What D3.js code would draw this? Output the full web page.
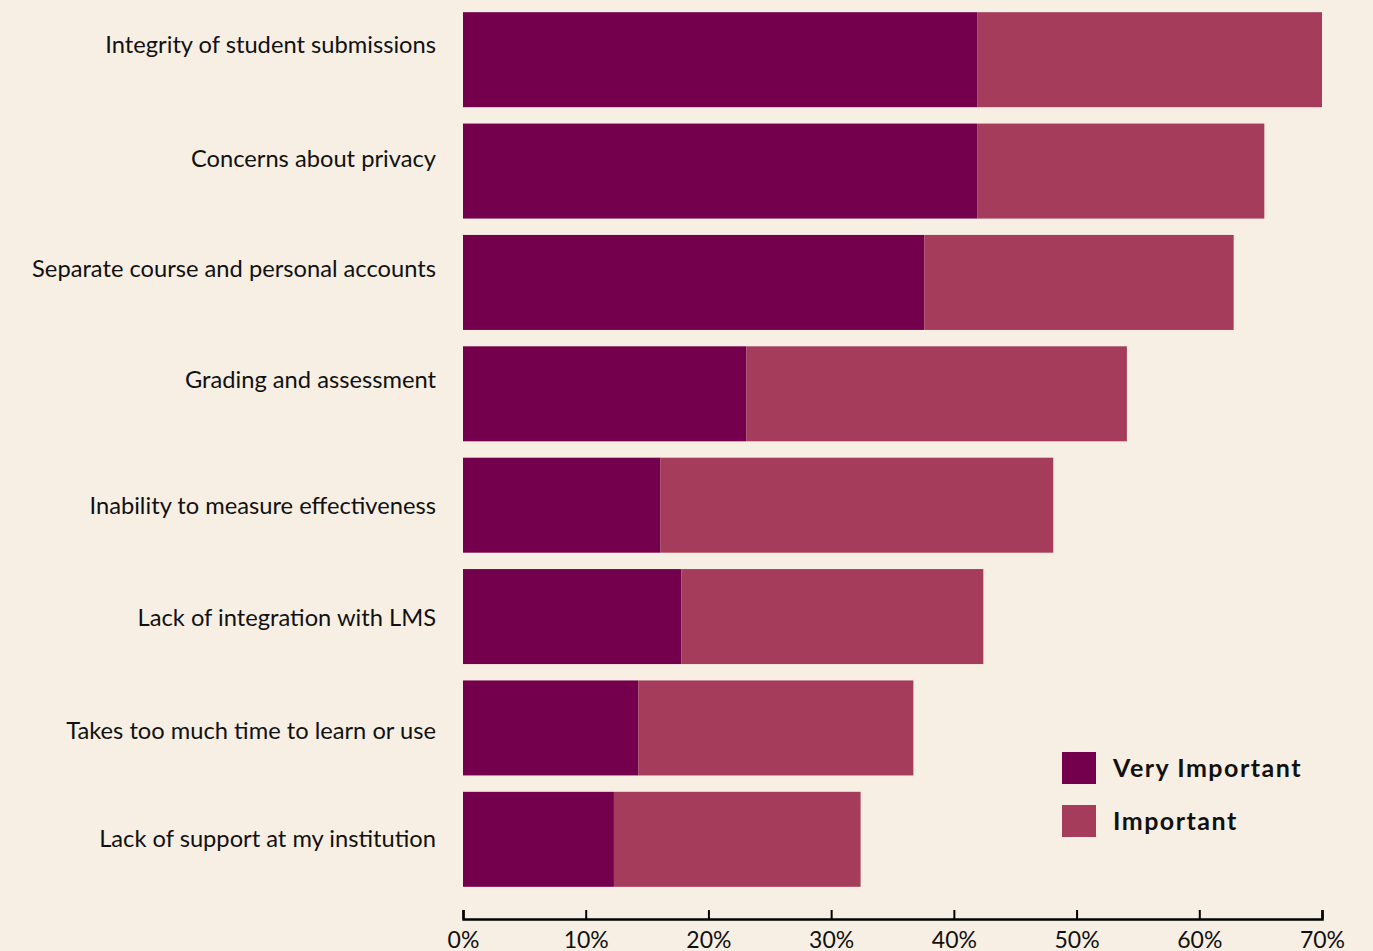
<!DOCTYPE html>
<html>
<head>
<meta charset="utf-8">
<script src="https://cdn.jsdelivr.net/npm/d3@7"></script>
<style>
  html, body { margin: 0; padding: 0; background: #F7EFE3; }
  svg { display: block; font-family: "Lato", "Open Sans", sans-serif; }
</style>
</head>
<body>
<svg id="chart" width="1373" height="951"></svg>
<script>
// Barriers to adoption, share of respondents (%)
const categories = [
  "Integrity of student submissions",
  "Concerns about privacy",
  "Separate course and personal accounts",
  "Grading and assessment",
  "Inability to measure effectiveness",
  "Lack of integration with LMS",
  "Takes too much time to learn or use",
  "Lack of support at my institution"
];
const veryImportant = [41.9, 41.9, 37.6, 23.1, 16.1, 17.8, 14.3, 12.3];
const important     = [28.1, 23.4, 25.2, 31.0, 32.0, 24.6, 22.4, 20.1];
const seriesNames = ["Very Important", "Important"];
const xTicks = [0, 10, 20, 30, 40, 50, 60, 70];

// styling / layout
const seriesColors = ["#74004D", "#A53C5C"];
const labelNudge = [-15, -12, -14, -14, 1, 1, 3, -1]; // vertical label offsets (px)

const svg = d3.select("#chart");

const x = d3.scaleLinear().domain([0, 70]).range([463, 1322]);
const y = d3.scaleBand().domain(categories).range([4, 895])
  .paddingInner(0.147).paddingOuter(0.0735);

const rows = categories.map((c, i) => ({
  cat: c,
  segs: [
    { s: 0, x0: 0, x1: veryImportant[i] },
    { s: 1, x0: veryImportant[i], x1: veryImportant[i] + important[i] }
  ]
}));

// stacked bars
svg.append("g").selectAll("g").data(rows).join("g")
  .attr("transform", d => `translate(0,${y(d.cat)})`)
  .selectAll("rect").data(d => d.segs).join("rect")
  .attr("x", d => x(d.x0))
  .attr("width", d => x(d.x1) - x(d.x0))
  .attr("height", y.bandwidth())
  .attr("fill", d => seriesColors[d.s]);

// category labels
svg.append("g").selectAll("text").data(categories).join("text")
  .attr("x", 436)
  .attr("y", (d, i) => y(d) + y.bandwidth() / 2 + labelNudge[i])
  .attr("dy", "0.35em")
  .attr("text-anchor", "end")
  .attr("font-size", 23.7)
  .attr("fill", "#111")
  .text(d => d);

// x axis with ticks pointing up
const xAxis = d3.axisBottom(x).tickValues(xTicks)
  .tickFormat(d => d + "%").tickSize(-9).tickSizeOuter(-9).tickPadding(13);
const ax = svg.append("g").attr("transform", "translate(0,919)").call(xAxis);
ax.select(".domain").attr("stroke", "#000").attr("stroke-width", 2.5);
ax.selectAll(".tick line").attr("stroke", "#000").attr("stroke-width", 2);
ax.selectAll(".tick text").attr("font-size", 23).attr("fill", "#111")
  .attr("font-family", "Lato, sans-serif");

// legend
const lg = svg.append("g").attr("transform", "translate(1062,752)");
const items = lg.selectAll("g").data(seriesNames).join("g")
  .attr("transform", (d, i) => `translate(0,${i * 53})`);
items.append("rect").attr("width", 34).attr("height", 32)
  .attr("fill", (d, i) => seriesColors[i]);
items.append("text").attr("x", 51).attr("y", 16).attr("dy", "0.35em")
  .attr("font-size", 25).attr("font-weight", "bold").attr("fill", "#111")
  .attr("letter-spacing", 1.5)
  .text(d => d);
</script>
</body>
</html>
